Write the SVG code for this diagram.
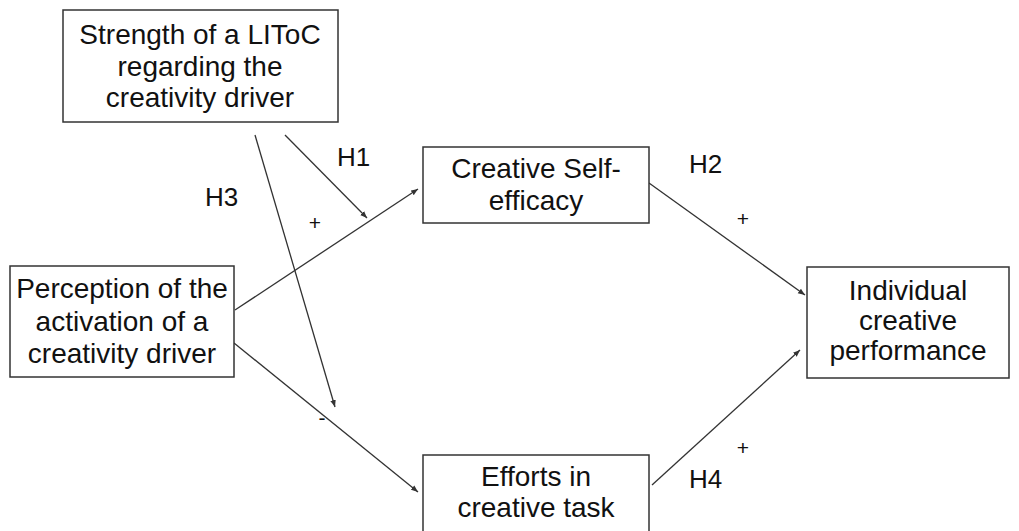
<svg xmlns="http://www.w3.org/2000/svg" width="1019" height="531" viewBox="0 0 1019 531">
<style>
.box{fill:#fff;stroke:#333;stroke-width:1.5}
.t{font-family:"Liberation Sans",Arial,Helvetica,sans-serif;font-size:28px;fill:#111;text-anchor:middle}
.lbl{font-family:"Liberation Sans",Arial,Helvetica,sans-serif;font-size:26px;fill:#111}
.sm{font-family:"Liberation Sans",Arial,Helvetica,sans-serif;font-size:21px;fill:#111;text-anchor:middle}
.c{stroke:#333;stroke-width:1.3;fill:none;marker-end:url(#ah)}
</style>
<defs>
<marker id="ah" viewBox="0 0 10 10" refX="10" refY="5" markerWidth="7" markerHeight="7" markerUnits="userSpaceOnUse" orient="auto">
<path d="M0,1 L10,5 L0,9 z" fill="#333"/>
</marker>
</defs>
<rect width="1019" height="531" fill="#fff"/>
<g id="connectors">
<line class="c" x1="235" y1="310" x2="418" y2="189"/>
<line class="c" x1="285" y1="135" x2="367" y2="218"/>
<line class="c" x1="255" y1="135" x2="335" y2="407"/>
<line class="c" x1="234" y1="343" x2="418" y2="492"/>
<line class="c" x1="649" y1="183" x2="805" y2="295"/>
<line class="c" x1="652" y1="485" x2="800" y2="350"/>
</g>
<g id="labels">
<text class="lbl" x="337" y="166">H1</text>
<text class="lbl" x="205" y="206">H3</text>
<text class="lbl" x="689" y="173">H2</text>
<text class="lbl" x="689" y="488">H4</text>
<text class="sm" x="315" y="230">+</text>
<text class="sm" x="743" y="226">+</text>
<text class="sm" x="743" y="455">+</text>
<text class="sm" x="322" y="425">-</text>
</g>
<g id="node-strength">
<rect class="box" x="63" y="10" width="275" height="112"/>
<text class="t" x="200" y="44">Strength of a LIToC</text>
<text class="t" x="200" y="76">regarding the</text>
<text class="t" x="200" y="107">creativity driver</text>
</g>
<g id="node-perception">
<rect class="box" x="10" y="266" width="224" height="111"/>
<text class="t" x="122" y="298">Perception of the</text>
<text class="t" x="122" y="331">activation of a</text>
<text class="t" x="122" y="363">creativity driver</text>
</g>
<g id="node-selfefficacy">
<rect class="box" x="423" y="147" width="226" height="76"/>
<text class="t" x="536" y="178">Creative Self-</text>
<text class="t" x="536" y="210">efficacy</text>
</g>
<g id="node-individual">
<rect class="box" x="807" y="267" width="202" height="111"/>
<text class="t" x="908" y="300">Individual</text>
<text class="t" x="908" y="330">creative</text>
<text class="t" x="908" y="360">performance</text>
</g>
<g id="node-efforts">
<rect class="box" x="423" y="455" width="226" height="90"/>
<text class="t" x="536" y="486">Efforts in</text>
<text class="t" x="536" y="517">creative task</text>
</g>
</svg>
